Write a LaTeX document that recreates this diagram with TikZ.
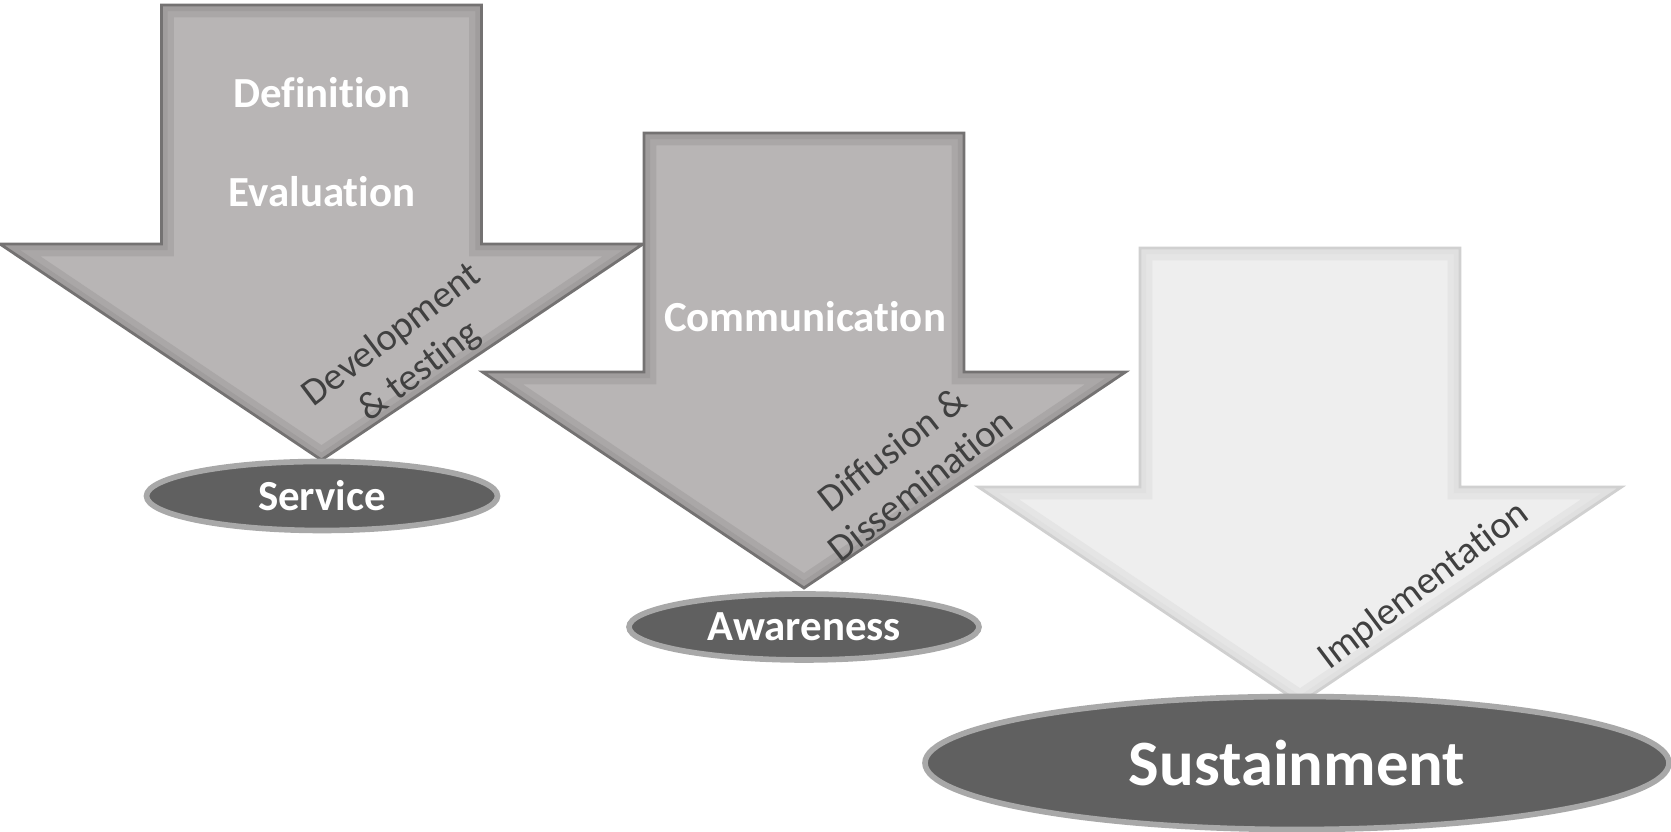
\documentclass[tikz,border=0pt]{standalone}
\usepackage{fontspec}
\setmainfont{Carlito}[Ligatures={NoCommon}]
\usepackage{tikz}
\usetikzlibrary{shapes.geometric}
\definecolor{stepgray}{HTML}{B8B5B5}
\definecolor{stepband}{HTML}{A09D9D}
\definecolor{stepline}{HTML}{747272}
\definecolor{lastfill}{HTML}{EEEEEE}
\definecolor{lastband}{HTML}{E0E0E0}
\definecolor{lastline}{HTML}{D0D0D0}
\definecolor{basegray}{HTML}{606060}
\definecolor{rimgray}{HTML}{A8A8A8}
\definecolor{sidetext}{HTML}{404040}

% outline of one down arrow, top centre at the origin
\newcommand{\stepshape}{(-1.6,0) -- (1.6,0) -- (1.6,-2.39) -- (3.215,-2.39) -- (0,-4.55) -- (-3.215,-2.39) -- (-1.6,-2.39) -- cycle}
% #1 = top centre, #2 = fill, #3 = bevel band, #4 = outline
\newcommand{\steparrow}[4]{%
  \begin{scope}[shift={#1}]
    \begin{scope}
      \clip \stepshape;
      \fill[#2] \stepshape;
      \draw[#3!60!#2, line width=7pt] \stepshape;
      \draw[#3, line width=3.5pt] \stepshape;
    \end{scope}
    \draw[#4, line width=0.8pt] \stepshape;
  \end{scope}}

\tikzset{
  steplabel/.style={text=white, font=\fontsize{12.2}{15}\selectfont\bfseries},
  sidelabel/.style={text=sidetext, font=\fontsize{11}{13}\selectfont, align=center, rotate=37},
  basebox/.style={ellipse, fill=basegray, draw=rimgray, line width=1.6pt, inner sep=0pt, text=white, font=\fontsize{12.2}{15}\selectfont\bfseries},
}

\begin{document}
\begin{tikzpicture}
\useasboundingbox (0,0) rectangle (16.71,8.32);

% first step
\steparrow{(3.215,8.27)}{stepgray}{stepband}{stepline}
\node[steplabel] (definition) at (3.22,7.39) {Definition};
\node[steplabel] (evaluation) at (3.22,6.40) {Evaluation};
\node[sidelabel] (development) at (4.06,4.78) {Development\\\& testing};
\node[basebox, minimum width=3.51cm, minimum height=0.69cm] (service) at (3.22,3.36) {Service};

% second step
\steparrow{(8.04,6.99)}{stepgray}{stepband}{stepline}
\node[steplabel] (communication) at (8.05,5.15) {Communication};
\node[sidelabel, rotate=1] (diffusion) at (9.06,3.65) {Diffusion \&\\Dissemination};
\node[basebox, minimum width=3.50cm, minimum height=0.66cm] (awareness) at (8.04,2.05) {Awareness};

% last step
\steparrow{(13.00,5.84)}{lastfill}{lastband}{lastline}
\node[sidelabel] (implementation) at (14.24,2.46) {Implementation};
\node[basebox, minimum width=7.44cm, minimum height=1.33cm, font=\fontsize{18.4}{22}\selectfont\bfseries] (sustainment) at (12.97,0.69) {Sustainment};
\end{tikzpicture}
\end{document}
